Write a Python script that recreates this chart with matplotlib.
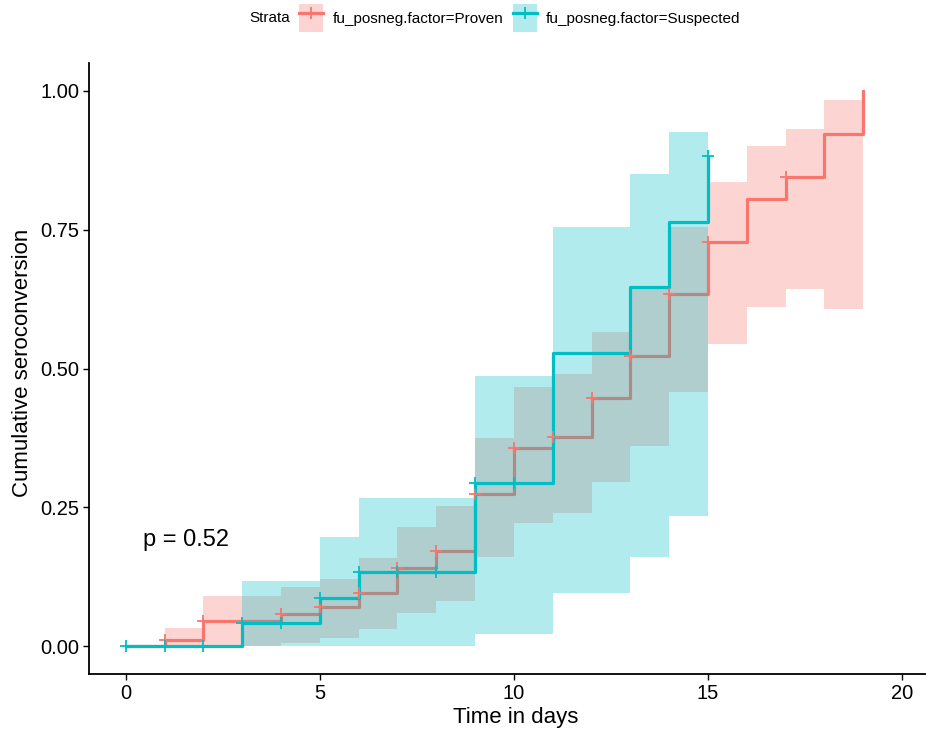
import numpy as np
import matplotlib.pyplot as plt
from matplotlib.patches import Patch
from matplotlib.lines import Line2D

plt.rcParams['font.family'] = ['Liberation Sans', 'DejaVu Sans']

RED = "#F8766D"
CYAN = "#00BFC4"

# fu_posneg.factor=Proven
proven_t = [0, 1, 2, 3, 4, 5, 6, 7, 8, 9, 10, 11, 12, 13, 14, 15, 16, 17, 18, 19]
proven_est = [0.0, 0.011, 0.045, 0.045, 0.058, 0.071, 0.096, 0.140, 0.172, 0.274,
              0.356, 0.377, 0.447, 0.523, 0.634, 0.727, 0.805, 0.844, 0.922, 1.0]
proven_band_t = [1, 2, 3, 4, 5, 6, 7, 8, 9, 10, 11, 12, 13, 14, 15, 16, 17, 18, 19]
proven_lo = [0.0, 0.0, 0.001, 0.005, 0.014, 0.031, 0.059, 0.082, 0.160, 0.222,
             0.240, 0.296, 0.360, 0.458, 0.544, 0.610, 0.643, 0.607]
proven_hi = [0.033, 0.090, 0.090, 0.106, 0.121, 0.158, 0.214, 0.253, 0.374, 0.467,
             0.490, 0.566, 0.646, 0.755, 0.835, 0.901, 0.931, 0.984]
proven_censor = [1, 2, 4, 5, 6, 7, 8, 9, 10, 11, 12, 13, 14, 15, 17]

# fu_posneg.factor=Suspected
susp_t = [0, 1, 2, 3, 4, 5, 6, 7, 8, 9, 10, 11, 12, 13, 14, 15]
susp_est = [0.0, 0.0, 0.0, 0.042, 0.042, 0.087, 0.134, 0.134, 0.134, 0.293,
            0.293, 0.528, 0.528, 0.646, 0.764, 0.883]
susp_band_t = [3, 4, 5, 6, 7, 8, 9, 10, 11, 12, 13, 14, 15]
susp_lo = [0.0, 0.0, 0.0, 0.0, 0.0, 0.0, 0.022, 0.022, 0.095, 0.095, 0.160, 0.235]
susp_hi = [0.117, 0.117, 0.196, 0.266, 0.266, 0.266, 0.487, 0.487, 0.754, 0.754,
           0.850, 0.926]
susp_censor = [0, 1, 2, 3, 4, 5, 6, 7, 8, 9, 10, 15]

labels = ["fu_posneg.factor=Proven", "fu_posneg.factor=Suspected"]


def draw_group(ax, t, est, band_t, lo, hi, censor, color, z):
    lo = list(lo) + [lo[-1]]
    hi = list(hi) + [hi[-1]]
    ax.fill_between(band_t, lo, hi, step="post", color=color, alpha=0.3,
                    linewidth=0, zorder=z)
    ax.step(t, est, where="post", color=color, lw=2.3, zorder=z + 1)
    cy = [est[t.index(c)] for c in censor]
    ax.plot(censor, cy, ls="none", marker="+", ms=9, mew=1.3, color=color,
            zorder=z + 4)


fig = plt.figure(figsize=(9.26, 7.30), dpi=100)
ax = fig.add_axes([89 / 926, 1 - 674 / 730, 1 - 89 / 926, (674 - 63) / 730])

draw_group(ax, proven_t, proven_est, proven_band_t, proven_lo, proven_hi,
           proven_censor, RED, 1)
draw_group(ax, susp_t, susp_est, susp_band_t, susp_lo, susp_hi,
           susp_censor, CYAN, 3)

ax.text(0.45, 0.180, "p = 0.52", fontsize=17, ha="left", va="baseline")

ax.set_xlim(-0.95, 20.62)
ax.set_ylim(-0.05, 1.05)
ax.set_xticks([0, 5, 10, 15, 20])
ax.set_yticks([0, 0.25, 0.5, 0.75, 1.0])
ax.set_yticklabels(["0.00", "0.25", "0.50", "0.75", "1.00"])
ax.tick_params(labelsize=14.5, length=4, width=1, colors="black", pad=3)
ax.spines["top"].set_visible(False)
ax.spines["right"].set_visible(False)
for s in ("left", "bottom"):
    ax.spines[s].set_linewidth(1.3)

ax.set_xlabel("Time in days", fontsize=16)
ax.set_ylabel("Cumulative seroconversion", fontsize=16)
ax.xaxis.set_label_coords(0.51, -0.054)
ax.yaxis.set_label_coords(-0.067, 0.51)

handles = [(Patch(facecolor=RED, alpha=0.3, lw=0),
            Line2D([], [], color=RED, lw=2.3, marker="+", ms=9, mew=1.3)),
           (Patch(facecolor=CYAN, alpha=0.3, lw=0),
            Line2D([], [], color=CYAN, lw=2.3, marker="+", ms=9, mew=1.3))]
fig.text(249 / 926, 1 - 18 / 730, "Strata", fontsize=11, ha="left", va="center")
fig.legend(handles, labels, ncol=2, loc="center left",
           bbox_to_anchor=(299 / 926, 1 - 18 / 730), frameon=False,
           fontsize=11, handlelength=1.6, handleheight=2.4,
           handletextpad=0.6, columnspacing=0.6, borderpad=0,
           borderaxespad=0)

fig.savefig("out.png", dpi=100)
